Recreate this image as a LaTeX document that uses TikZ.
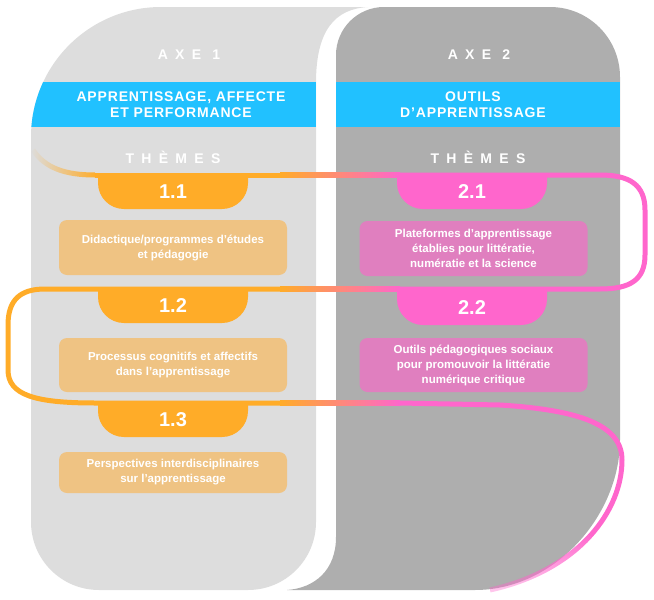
\documentclass[tikz,border=0pt]{standalone}
\usepackage{fontspec}
\setmainfont{Liberation Sans}
\newfontfamily\spacedfont[LetterSpace=52]{Liberation Sans}
\newfontfamily\bandfont[LetterSpace=6]{Liberation Sans}
\usetikzlibrary{fadings}
\definecolor{panellight}{HTML}{DDDDDD}
\definecolor{paneldark}{HTML}{AEAEAE}
\definecolor{axeblue}{HTML}{21C1FF}
\definecolor{ribbonorange}{HTML}{FFAC28}
\definecolor{ribbonpink}{HTML}{FF66CC}
\definecolor{boxorange}{HTML}{EFC383}
\definecolor{boxpink}{HTML}{E07FBF}
\newcommand{\themepill}[5]{% name, centre x, top y, colour, label
  \fill[#4, rounded corners=26] (#2-75,#3) -- (#2-75,#3+34) -- (#2+75,#3+34) -- (#2+75,#3);
  \node[pilltext] (#1) at (#2,#3+17) {#5};
}

\begin{document}
\begin{tikzpicture}[x=1pt, y=-1pt,
    axetext/.style={text=white, font=\spacedfont\bfseries\fontsize{14}{14}\selectfont},
    bandtext/.style={text=white, align=center, font=\bandfont\bfseries\fontsize{14}{16}\selectfont},
    pilltext/.style={text=white, font=\bfseries\fontsize{20}{20}\selectfont},
    themebox/.style={rounded corners=8, text=white, align=center, minimum width=228, inner sep=0,
        font=\bfseries\fontsize{11.5}{15}\selectfont},
    ribbon/.style={line width=5}]
    \useasboundingbox (0,0) rectangle (654,600);

    % two panels
    \fill[panellight] (31,137) .. controls (31,65.2) and (89.2,7) .. (161,7) -- (368,7)
        .. controls (335,9) and (316,30) .. (316,83) -- (316,522)
        .. controls (316,559.6) and (285.6,590) .. (248,590) -- (99,590)
        .. controls (61.4,590) and (31,559.6) .. (31,522) -- cycle;
    \fill[paneldark] (336,55) .. controls (336,28.5) and (357.5,7) .. (384,7) -- (550,7)
        .. controls (588.7,7) and (620,38.3) .. (620,77) -- (620,440)
        .. controls (620,515) and (555,590) .. (475,590) -- (287,590)
        .. controls (315,588) and (336,570) .. (336,537) -- cycle;

    % blue bands
    \begin{scope}
        \clip (31,137) .. controls (31,65.2) and (89.2,7) .. (161,7) -- (316,7) -- (316,200) -- (31,200) -- cycle;
        \fill[axeblue] (0,82) rectangle (316,127);
    \end{scope}
    \fill[axeblue] (336,82) rectangle (620,127);

    \node[axetext] (axe1) at (189,55) {AXE 1};
    \node[axetext] (axe2) at (479,55) {AXE 2};
    \node[bandtext] (titre1) at (181,105) {APPRENTISSAGE, AFFECTE\\ET PERFORMANCE};
    \node[bandtext] (titre2) at (473,105) {OUTILS\\D’APPRENTISSAGE};
    \node[axetext] (themes1) at (173,157) {THÈMES};
    \node[axetext] (themes2) at (478,157) {THÈMES};

    % ribbon
    \coordinate (r0) at (33,150);
    \coordinate (r1) at (95,175);
    \coordinate (r2) at (280,175);
    \coordinate (r3) at (400,175);
    \coordinate (r4) at (400,289);
    \coordinate (r5) at (280,289);
    \coordinate (r6) at (280,403);
    \coordinate (r7) at (400,403);
    \coordinate (r8) at (589.75,536.25);
    \coordinate (r9) at (490,590);
    \draw[ribbon, ribbonorange, path fading=west] (r0) .. controls (45,168) and (65,175) .. (r1);
    \draw[ribbon, ribbonorange] (r1) -- (r2);
    \shade[left color=ribbonorange, right color=ribbonpink] (280,172.5) rectangle (400,177.5);
    \draw[ribbon, ribbonpink] (r3) -- (600,175) .. controls (630,175) and (645,185) .. (645,210)
        -- (645,255) .. controls (645,280) and (630,289) .. (600,289) -- (r4);
    \shade[left color=ribbonorange, right color=ribbonpink] (280,286.5) rectangle (400,291.5);
    \draw[ribbon, ribbonorange] (r5) -- (45,289) .. controls (20,289) and (8,300) .. (8,325)
        -- (8,370) .. controls (8,395) and (35,403) .. (95,403) -- (r6);
    \shade[left color=ribbonorange, right color=ribbonpink] (280,400.5) rectangle (400,405.5);
    \draw[ribbon, ribbonpink] (r7) -- (500,405) .. controls (580,410) and (622,425) .. (622,460)
        .. controls (622,485) and (611.5,512.5) .. (r8);
    \draw[ribbon, ribbonpink, opacity=0.35] (r8) .. controls (568,560) and (535,580) .. (r9);
    \draw[ribbon, ribbonpink, path fading=south] (r8) .. controls (568,560) and (535,580) .. (r9);

    % pills
    \themepill{p11}{173}{175}{ribbonorange}{1.1}
    \themepill{p12}{173}{289}{ribbonorange}{1.2}
    \themepill{p13}{173}{403}{ribbonorange}{1.3}
    \themepill{p21}{472}{175}{ribbonpink}{2.1}
    \themepill{p22}{472}{291}{ribbonpink}{2.2}

    % theme boxes
    \node[themebox, fill=boxorange, minimum height=55] (b11) at (173,247.5)
        {Didactique/programmes d’études\\et pédagogie};
    \node[themebox, fill=boxorange, minimum height=54] (b12) at (173,365)
        {Processus cognitifs et affectifs\\dans l’apprentissage};
    \node[themebox, fill=boxorange, minimum height=41] (b13) at (173,472.5)
        {Perspectives interdisciplinaires\\sur l’apprentissage};
    \node[themebox, fill=boxpink, minimum height=55] (b21) at (473.5,248.5)
        {Plateformes d’apprentissage\\établies pour littératie,\\numératie et la science};
    \node[themebox, fill=boxpink, minimum height=54] (b22) at (473.5,365)
        {Outils pédagogiques sociaux\\pour promouvoir la littératie\\numérique critique};
\end{tikzpicture}
\end{document}
